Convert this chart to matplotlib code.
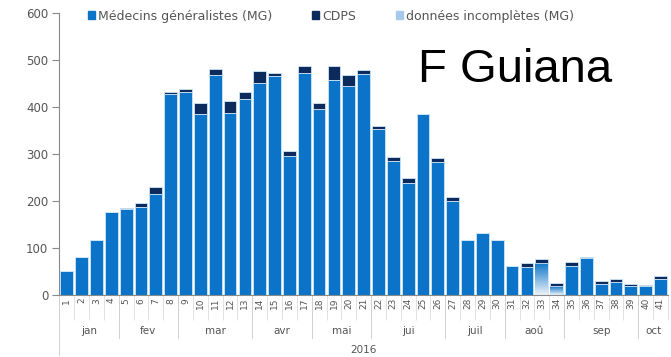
import numpy as np
import matplotlib
matplotlib.use("Agg")
import matplotlib.pyplot as plt
from matplotlib.patches import Patch
from matplotlib.lines import Line2D
import matplotlib.transforms as mtransforms
from matplotlib.colors import LinearSegmentedColormap

plt.rcParams['font.family'] = ['DejaVu Sans']

weeks = [str(i) for i in range(1, 42)]
mg = [52, 80, 118, 177, 183, 188, 215, 428, 432, 385, 468, 388, 418, 452, 466,
      296, 472, 395, 457, 445, 470, 353, 286, 238, 385, 282, 199, 116, 131, 117,
      62, 60, 0, 0, 62, 78, 23, 28, 20, 20, 33]
incomplete = [0]*32 + [69, 19] + [0]*7
cdps = [0, 0, 0, 0, 3, 8, 15, 3, 6, 24, 13, 25, 13, 25, 7,
        11, 15, 14, 30, 23, 9, 7, 8, 10, 0, 9, 10, 0, 0, 1,
        0, 7, 7, 6, 9, 2, 7, 7, 3, 1, 7]
months = ["jan", "fev", "mar", "avr", "mai", "jui", "juil", "aoû", "sep", "oct"]
month_weeks = [4, 4, 5, 4, 4, 5, 4, 4, 5, 2]
year_label = "2016"
legend_labels = ["Médecins généralistes (MG)", "CDPS", "données incomplètes (MG)"]

c_mg = "#0b73c8"
c_cdps = "#0c2a5c"
c_inc = "#a6c8ea"
c_edge = "#cfe6f8"
grey = "#8a8a8a"
txt = "#555555"

fig = plt.figure(figsize=(6.71, 3.57), dpi=100)
ax = fig.add_axes([0.0884, 0.1737, 0.9071, 0.79])

x = np.arange(1, len(weeks) + 1)
mg_a = np.array(mg, float)
inc_a = np.array(incomplete, float)
cd_a = np.array(cdps, float)
w = 0.86

ax.bar(x, mg_a, width=w, color=c_mg, edgecolor=c_edge, linewidth=0.6, zorder=2)
inc_bars = ax.bar(x, inc_a, bottom=mg_a, width=w, color=c_inc, edgecolor=c_edge,
                  linewidth=0.6, zorder=2)
ax.bar(x, cd_a, bottom=mg_a + inc_a, width=w, color=c_cdps, edgecolor=c_edge,
       linewidth=0.6, zorder=3)

cmap = LinearSegmentedColormap.from_list("g", ["#eef4fb", c_mg])
grad = np.linspace(0, 1, 256).reshape(-1, 1)
for b, v in zip(inc_bars, inc_a):
    if v > 0:
        x0 = b.get_x(); y0 = b.get_y(); bw = b.get_width(); bh = b.get_height()
        im = ax.imshow(grad, extent=[x0, x0 + bw, y0, y0 + bh], origin="lower",
                       cmap=cmap, aspect="auto", zorder=2.5)
        im.set_clip_path(b)
ax.set_xlim(0.5, len(weeks) + 0.5)
ax.set_ylim(0, 600)

for s in ["top", "right"]:
    ax.spines[s].set_visible(False)
ax.spines["left"].set_color(grey)
ax.spines["bottom"].set_color(grey)
ax.set_yticks(range(0, 601, 100))
ax.tick_params(axis="y", colors=grey, labelcolor=txt, labelsize=8.5, length=5,
               direction="out", pad=3)
ax.set_xticks(x)
ax.set_xticklabels(weeks, rotation=90, fontsize=6.5, color=txt)
ax.tick_params(axis="x", length=0, pad=2)
ax.set_xticks(np.arange(0.5, len(weeks) + 1, 1), minor=True)
ax.tick_params(axis="x", which="minor", length=18, color="#dcdcdc", width=0.6)

trans = mtransforms.blended_transform_factory(ax.transData, ax.transAxes)
start = 0.5
for name, n in zip(months, month_weeks):
    end = start + n
    ax.text((start + end) / 2, -0.128, name, transform=trans, ha="center",
            va="center", fontsize=7.5, color=txt)
    if end < len(weeks) + 0.5:
        ax.add_line(Line2D([end, end], [0, -0.152], transform=trans, color="#d0d0d0",
                           lw=0.7, clip_on=False))
    start = end
ax.add_line(Line2D([0.5, 0.5], [0, -0.213], transform=trans, color="#d0d0d0",
                   lw=0.7, clip_on=False))
ax.text(0.5, -0.195, year_label, transform=ax.transAxes, ha="center", va="center",
        fontsize=7.5, color=txt)

handles = [Patch(color=c_mg), Patch(color=c_cdps), Patch(color=c_inc)]
fig.legend(handles, legend_labels, loc="center left", bbox_to_anchor=(0.131, 0.955),
           ncol=3, frameon=False, fontsize=9, handlelength=0.55, handleheight=0.55,
           handletextpad=0.25, columnspacing=3.2, labelcolor=txt, borderpad=0,
           borderaxespad=0)

fig.text(0.623, 0.770, "F Guiana", fontsize=34, color="black", ha="left",
         va="baseline", family="Liberation Sans")

fig.savefig("out.png", dpi=100)
